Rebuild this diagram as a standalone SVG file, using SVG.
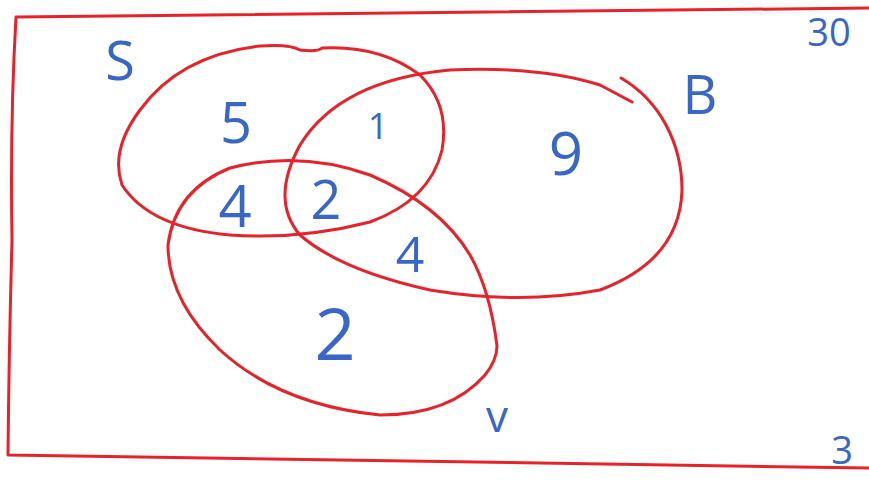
<svg xmlns="http://www.w3.org/2000/svg" width="869" height="495" viewBox="0 0 869 495">
<style>
.r{fill:none;stroke:#e8222b;stroke-width:3;stroke-linecap:round;stroke-linejoin:round}
.t{fill:#3a67c6;font-family:"Open Sans","Liberation Sans",sans-serif;text-anchor:middle}
</style>
<rect width="869" height="495" fill="#fff"/>
<g id="universe">
<path class="r" d="M16,17 L869,8 M16,17 Q10,120 12,240 Q9,350 8,454 M8,455 L869,468"/>
<text class="t" x="829" y="46" font-size="38">30</text>
<text class="t" x="842" y="464" font-size="38">3</text>
</g>
<g id="set-S">
<path class="r" d="M300,50 Q318,52 322,48 Q380,45 420,75 Q450,105 442,150 Q430,200 370,222 Q300,240 230,235 Q150,228 122,185 Q110,150 140,110 Q180,55 260,46 Q290,44 300,50 Z"/>
<text class="t" x="120" y="80" font-size="54">S</text>
</g>
<g id="set-B">
<path class="r" d="M621,78 Q650,95 666,125 Q682,155 682,190 Q680,260 600,290 Q520,305 430,290 Q340,270 300,235 Q270,200 300,145 Q340,80 450,70 Q540,66 600,85 L632,102"/>
<text class="t" x="700" y="114" font-size="54">B</text>
</g>
<g id="set-V">
<path class="r" d="M497,346 Q490,290 470,255 Q440,205 370,175 Q300,150 230,168 Q175,190 168,245 Q168,300 220,350 Q280,405 380,415 Q450,415 485,375 Q497,360 497,346 Z"/>
<text class="t" x="497" y="432" font-size="44">v</text>
</g>
<g id="counts">
<text class="t" x="236" y="143" font-size="56">5</text>
<text class="t" x="378" y="139" font-size="36">1</text>
<text class="t" x="566" y="175" font-size="60">9</text>
<text class="t" x="235" y="227" font-size="58">4</text>
<text class="t" x="326" y="219" font-size="54">2</text>
<text class="t" x="410" y="272" font-size="50">4</text>
<text class="t" x="335" y="360" font-size="72">2</text>
</g>
</svg>
